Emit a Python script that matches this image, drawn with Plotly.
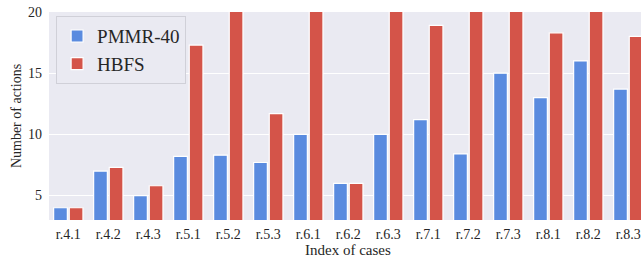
import plotly.graph_objects as go

cases = ["r.4.1", "r.4.2", "r.4.3", "r.5.1", "r.5.2", "r.5.3", "r.6.1", "r.6.2",
         "r.6.3", "r.7.1", "r.7.2", "r.7.3", "r.8.1", "r.8.2", "r.8.3"]
pmmr40 = [4.0, 7.0, 5.0, 8.2, 8.3, 7.7, 10.0, 6.0, 10.0, 11.2, 8.4, 15.0, 13.0, 16.0, 13.7]
# values above 20 are cut off in the reference; estimated
hbfs = [4.0, 7.3, 5.8, 17.3, 24.0, 11.7, 24.0, 6.0, 24.0, 18.9, 24.0, 24.0, 18.3, 24.0, 18.0]
y_ticks = [5, 10, 15, 20]

FONT = "Liberation Serif"
BLUE = "#5A8BDF"
RED = "#D45449"

fig = go.Figure()
fig.add_trace(go.Bar(x=cases, y=pmmr40, name="PMMR-40", marker=dict(color=BLUE, line=dict(color="white", width=1.2))))
fig.add_trace(go.Bar(x=cases, y=hbfs, name="HBFS", marker=dict(color=RED, line=dict(color="white", width=1.2))))

fig.update_layout(
    width=641, height=259,
    margin=dict(l=49, r=0, t=12, b=39, autoexpand=False),
    paper_bgcolor="white", plot_bgcolor="#EAEAF2",
    barmode="group", bargap=0.22, bargroupgap=0.12,
    font=dict(family=FONT, size=14, color="#262626"),
    legend=dict(x=0.012, y=0.98, xanchor="left", yanchor="top",
                bgcolor="#EAEAF2", bordercolor="#D0D0D8", borderwidth=1,
                font=dict(family=FONT, size=19, color="#262626"),
                itemwidth=30, tracegroupgap=0),
    showlegend=True,
)
fig.update_xaxes(range=[-0.4825, 14.3175], showgrid=False, zeroline=False, automargin=False,
                 tickfont=dict(family=FONT, size=14, color="#262626"), ticks="", ticklabelstandoff=4)
fig.update_yaxes(range=[3, 20], tickvals=y_ticks, showgrid=True, gridcolor="white", gridwidth=1.3,
                 zeroline=False, ticks="", ticklabelstandoff=6, automargin=False,
                 tickfont=dict(family=FONT, size=14, color="#262626"),
                 title=dict(text="Number of actions", font=dict(family=FONT, size=14, color="#262626"), standoff=3))
fig.add_annotation(text="Index of cases", xref="paper", yref="paper", x=(348 - 49) / 592, y=(220 - 250) / 208,
                   xanchor="center", yanchor="middle", showarrow=False,
                   font=dict(family=FONT, size=15, color="#262626"))

fig.write_html("out.html", config={"displayModeBar": False},
               post_script="document.body.style.margin='0';document.body.style.overflow='hidden';")
